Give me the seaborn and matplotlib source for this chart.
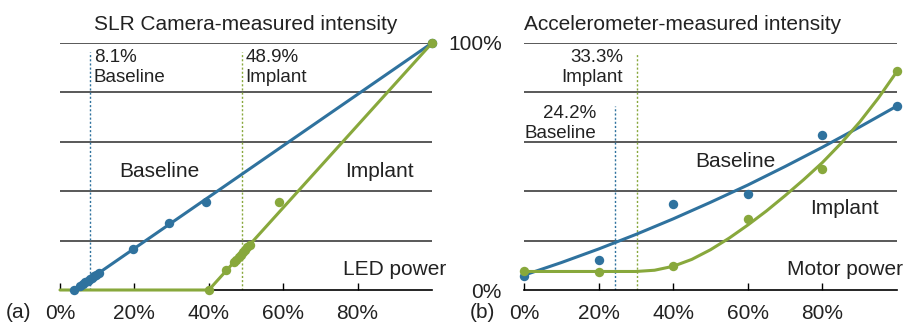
# %%
import matplotlib
matplotlib.use("Agg")
import matplotlib.pyplot as plt
import pandas as pd
import seaborn as sns

# %%
# Data (in %)
# (a) SLR camera
base_a_x = [3.8, 5.5, 6.2, 6.8, 7.4, 8.0, 8.6, 9.2, 9.8, 10.4, 19.5, 29.3, 39.2, 100]
base_a_y = [0, 1.8, 2.5, 3.1, 3.7, 4.3, 4.9, 5.5, 6.1, 6.8, 16.8, 27.0, 35.6, 100]
impl_a_x = [40, 44.5, 46.8, 47.4, 48.0, 48.6, 49.2, 49.8, 50.4, 51.0, 58.8, 100]
impl_a_y = [0, 8.0, 11.3, 12.3, 13.3, 14.3, 15.3, 16.3, 17.3, 18.3, 35.6, 100]
base_a_fit_x = [3.8, 100]
base_a_fit_y = [0, 100]
impl_a_fit_x = [0, 40, 100]
impl_a_fit_y = [0, 0, 100]

# (b) accelerometer
level_b = [0, 20, 40, 60, 80, 100]
base_b_y = [5.7, 12.0, 34.7, 39.0, 62.6, 74.5]
impl_b_y = [7.7, 7.1, 9.8, 28.6, 49.0, 88.7]
base_b_fit_x = [0, 10, 20, 30, 40, 50, 60, 70, 80, 90, 100]
base_b_fit_y = [6, 11.1, 16.6, 22.5, 28.8, 35.5, 42.5, 50, 57.8, 66, 74.5]
impl_b_fit_x = [0, 30, 35, 40, 45, 50, 55, 60, 65, 70, 75, 80, 85, 90, 95, 100]
impl_b_fit_y = [7.5, 7.5, 8.0, 9.6, 12.4, 16.3, 21.0, 26.3, 32.0, 38.2, 44.7, 51.6, 59.4, 68.0, 77.7, 88.5]

# thresholds: where the dotted line sits, and its label
thr_a = {"Baseline": (8.1, "8.1%"), "Implant": (48.9, "48.9%")}
thr_b = {"Baseline": (24.5, "24.2%"), "Implant": (30.3, "33.3%")}

x_ticks = [0, 20, 40, 60, 80]
x_ticklabels = ["0%", "20%", "40%", "60%", "80%"]

# %%
sns.set_theme(style="white")
plt.rcParams["font.family"] = ["Liberation Sans", "DejaVu Sans"]

BLUE = "#2f729e"
GREEN = "#88a83c"
GRID = "#3c3c3c"
TXT = "#222222"

W, H = 907, 325
fig = plt.figure(figsize=(W / 100, H / 100), dpi=100)
ax_a = fig.add_axes([60 / W, 35 / H, 372 / W, 247 / H])
ax_b = fig.add_axes([524 / W, 35 / H, 373 / W, 247 / H])


def base_style(ax):
    ax.set_xlim(0, 100)
    ax.set_ylim(0, 100)
    for s in ["top", "right", "left"]:
        ax.spines[s].set_visible(False)
    ax.spines["bottom"].set_color("black")
    ax.spines["bottom"].set_linewidth(1.2)
    for yv in [20, 40, 60, 80, 100]:
        ax.axhline(yv, color=GRID, lw=1.2, zorder=1)
    ax.set_xticks(x_ticks)
    ax.set_xticklabels(x_ticklabels)
    ax.tick_params(axis="x", direction="in", length=5, width=1, color="black",
                   labelsize=15, pad=10, labelcolor=TXT, bottom=True)
    ax.set_xlabel("")
    ax.set_ylabel("")


def draw_series(ax, fx, fy, px, py, color):
    sns.lineplot(x=fx, y=fy, ax=ax, color=color, lw=2.2, zorder=3,
                 clip_on=False, sort=False)
    sns.scatterplot(x=px, y=py, ax=ax, color=color, s=46, linewidth=0,
                    zorder=4, clip_on=False)


# ---- (a)
base_style(ax_a)
ax_a.set_yticks([])
draw_series(ax_a, base_a_fit_x, base_a_fit_y, base_a_x, base_a_y, BLUE)
draw_series(ax_a, impl_a_fit_x, impl_a_fit_y, impl_a_x, impl_a_y, GREEN)
for (name, (xv, lab)), col in zip(thr_a.items(), [BLUE, GREEN]):
    ax_a.plot([xv, xv], [0, 96.4], ls=(0, (1.5, 1.5)), lw=1, color=col, zorder=2)
    ax_a.text(xv + 1.0, 97.5, f"{lab}\n{name}", ha="left", va="top",
              fontsize=13.5, color=TXT, linespacing=1.25)
ax_a.text(26.8, 47.8, "Baseline", ha="center", va="center", fontsize=15, color=TXT)
ax_a.text(86, 47.8, "Implant", ha="center", va="center", fontsize=15, color=TXT)
ax_a.text(103.8, 8.5, "LED power", ha="right", va="center", fontsize=15,
          color=TXT, clip_on=False)
ax_a.set_title("SLR Camera-measured intensity", fontsize=15, color=TXT, pad=9)

# ---- (b)
base_style(ax_b)
ax_b.set_yticks([0, 100])
ax_b.set_yticklabels(["0%", "100%"])
ax_b.tick_params(axis="y", length=0, labelsize=15, pad=16, labelcolor=TXT)
draw_series(ax_b, base_b_fit_x, base_b_fit_y, level_b, base_b_y, BLUE)
draw_series(ax_b, impl_b_fit_x, impl_b_fit_y, level_b, impl_b_y, GREEN)
tops = {"Baseline": 74.5, "Implant": 95.5}
txt_y = {"Baseline": 75, "Implant": 97.5}
for (name, (xv, lab)), col in zip(thr_b.items(), [BLUE, GREEN]):
    ax_b.plot([xv, xv], [0, tops[name]], ls=(0, (1.5, 1.5)), lw=1, color=col, zorder=2)
    ax_b.text(xv - 5.0 + (0 if name == "Baseline" else 1.3), txt_y[name],
              f"{lab}\n{name}", ha="right", va="top", multialignment="right",
              fontsize=13.5, color=TXT, linespacing=1.25)
ax_b.text(56.8, 52, "Baseline", ha="center", va="center", fontsize=15, color=TXT)
ax_b.text(86, 33, "Implant", ha="center", va="center", fontsize=15, color=TXT)
ax_b.text(101.6, 8.5, "Motor power", ha="right", va="center", fontsize=15,
          color=TXT, clip_on=False)
ax_b.set_title("Accelerometer-measured intensity", fontsize=15, color=TXT,
               pad=9, loc="left")

fig.text(6 / W, 1 - 313 / H, "(a)", ha="left", va="center", fontsize=15, color=TXT)
fig.text(470 / W, 1 - 313 / H, "(b)", ha="left", va="center", fontsize=15, color=TXT)

fig.savefig("out.png", dpi=100)
